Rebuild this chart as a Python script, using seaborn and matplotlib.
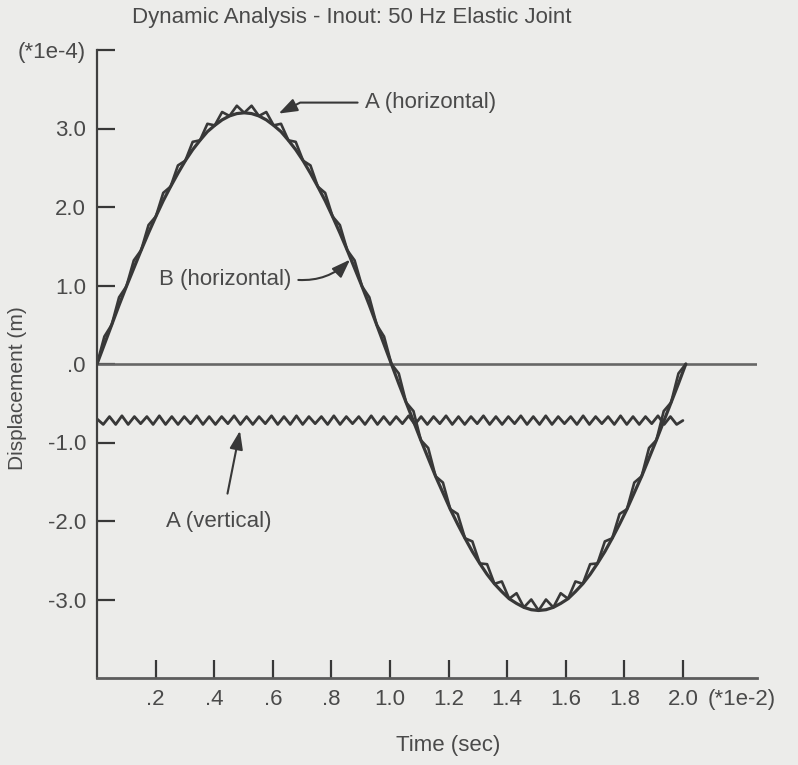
import numpy as np
import pandas as pd
import matplotlib
matplotlib.use("Agg")
import matplotlib.pyplot as plt
import seaborn as sns

# ---------------- data ----------------
title = "Dynamic Analysis - Inout: 50 Hz Elastic Joint"
x_label = "Time (sec)"
y_label = "Displacement (m)"

x_ticks = [0.2, 0.4, 0.6, 0.8, 1.0, 1.2, 1.4, 1.6, 1.8, 2.0, 2.2]
x_tick_labels = [".2", ".4", ".6", ".8", "1.0", "1.2", "1.4", "1.6", "1.8", "2.0", "(*1e-2)"]
y_ticks = [-3, -2, -1, 0, 1, 2, 3, 4]
y_tick_labels = ["-3.0", "-2.0", "-1.0", ".0", "1.0", "2.0", "3.0", "(*1e-4)"]

# B (horizontal): smooth response, sampled along the curve
horiz_B = [0.00, 0.25, 0.50, 0.75, 0.99, 1.22, 1.45, 1.67, 1.88, 2.08,
           2.26, 2.43, 2.59, 2.73, 2.85, 2.96, 3.04, 3.11, 3.16, 3.19,
           3.20, 3.19, 3.16, 3.11, 3.04, 2.96, 2.85, 2.73, 2.59, 2.43,
           2.26, 2.08, 1.88, 1.67, 1.45, 1.22, 0.99, 0.75, 0.50, 0.25,
           0.00, -0.25, -0.49, -0.73, -0.97, -1.20, -1.43, -1.64, -1.85, -2.04,
           -2.22, -2.39, -2.54, -2.68, -2.80, -2.90, -2.99, -3.05, -3.10, -3.13,
           -3.14, -3.13, -3.10, -3.05, -2.99, -2.90, -2.80, -2.68, -2.54, -2.39,
           -2.22, -2.04, -1.85, -1.64, -1.43, -1.20, -0.97, -0.73, -0.49, -0.25,
           0.00]
# A (horizontal): same response with the high-frequency ripple (teeth)
horiz_A = [0.00, 0.35, 0.50, 0.85, 0.99, 1.32, 1.45, 1.77, 1.88, 2.18,
           2.26, 2.53, 2.59, 2.83, 2.85, 3.06, 3.04, 3.21, 3.16, 3.29,
           3.20, 3.29, 3.16, 3.21, 3.04, 3.06, 2.85, 2.83, 2.59, 2.53,
           2.26, 2.18, 1.88, 1.77, 1.45, 1.32, 0.99, 0.85, 0.50, 0.35,
           0.00, -0.12, -0.49, -0.60, -0.97, -1.07, -1.43, -1.51, -1.85, -1.91,
           -2.22, -2.26, -2.54, -2.55, -2.80, -2.77, -2.99, -2.92, -3.10, -3.00,
           -3.14, -3.00, -3.10, -2.92, -2.99, -2.77, -2.80, -2.55, -2.54, -2.26,
           -2.22, -1.91, -1.85, -1.51, -1.43, -1.07, -0.97, -0.60, -0.49, -0.12,
           0.00]
horiz_end = 2.01

# A (vertical): small ripple around -0.72
vert_A = [-0.70, -0.77, -0.67, -0.77, -0.66, -0.77, -0.67, -0.76, -0.67, -0.77,
          -0.66, -0.77, -0.67, -0.77, -0.67, -0.76, -0.66, -0.77, -0.67, -0.77,
          -0.67, -0.76, -0.66, -0.77, -0.67, -0.77, -0.67, -0.76, -0.66, -0.77,
          -0.67, -0.77, -0.66, -0.77, -0.67, -0.76, -0.67, -0.77, -0.66, -0.77,
          -0.67, -0.76, -0.67, -0.77, -0.66, -0.77, -0.67, -0.77, -0.67, -0.76,
          -0.66, -0.77, -0.67, -0.77, -0.67, -0.76, -0.66, -0.77, -0.67, -0.77,
          -0.67, -0.76, -0.66, -0.77, -0.67, -0.77, -0.67, -0.76, -0.66, -0.77,
          -0.67, -0.77, -0.66, -0.77, -0.67, -0.76, -0.67, -0.77, -0.66, -0.77,
          -0.67, -0.76, -0.67, -0.77, -0.66, -0.77, -0.67, -0.77, -0.67, -0.76,
          -0.66, -0.77, -0.67, -0.77, -0.72]
vert_end = 2.0

# zero reference line
zero_time = [0.0, 2.253]
zero_disp = [0.0, 0.0]

# ---------------- styling ----------------
sns.set_theme(style="white")
plt.rcParams["font.family"] = ["Liberation Sans", "DejaVu Sans"]

bg = "#ececea"
ink = "#383838"
txt = "#4a4a4a"
fs = 16

fig = plt.figure(figsize=(7.98, 7.65), dpi=100, facecolor=bg)
ax = fig.add_axes([97 / 798, 1 - 678 / 765, 660 / 798, 628 / 765])
ax.set_facecolor(bg)

horiz_time = np.linspace(0, horiz_end, len(horiz_B))
vert_time = np.linspace(0, vert_end, len(vert_A))

df_h = pd.DataFrame({"t": horiz_time, "A": horiz_A, "B": horiz_B})
df_v = pd.DataFrame({"t": vert_time, "A": vert_A})
df_z = pd.DataFrame({"t": zero_time, "d": zero_disp})

sns.lineplot(data=df_z, x="t", y="d", ax=ax, color="#666666", lw=1.9,
             estimator=None, sort=False)
sns.lineplot(data=df_v, x="t", y="A", ax=ax, color=ink, lw=2.0,
             estimator=None, sort=False)
sns.lineplot(data=df_h, x="t", y="B", ax=ax, color=ink, lw=2.3,
             estimator=None, sort=False)
sns.lineplot(data=df_h, x="t", y="A", ax=ax, color=ink, lw=1.9,
             estimator=None, sort=False)

ax.set_xlim(0, 2.253)
ax.set_ylim(-4, 4)
ax.set_xticks(x_ticks)
ax.set_xticklabels(x_tick_labels)
ax.set_yticks(y_ticks)
ax.set_yticklabels(y_tick_labels)
ax.set_xlabel("")
ax.set_ylabel("")

ax.tick_params(axis="both", which="major", left=True, bottom=True,
               direction="in", length=13, width=1.6,
               colors=ink, labelcolor=txt, labelsize=fs)
ax.tick_params(axis="x", pad=8)
ax.tick_params(axis="y", pad=8)
ax.xaxis.get_major_ticks()[-1].tick1line.set_visible(False)

for s in ["top", "right"]:
    ax.spines[s].set_visible(False)
ax.spines["left"].set_color("#404040")
ax.spines["left"].set_linewidth(1.6)
ax.spines["bottom"].set_color("#5c5c5c")
ax.spines["bottom"].set_linewidth(2.0)

# annotations
arrow_kw = dict(arrowstyle="-|>,head_length=0.7,head_width=0.25",
                color=ink, lw=1.5, shrinkA=3, shrinkB=0)
ax.annotate("A (horizontal)", xy=(0.62, 3.19), xytext=(0.915, 3.33),
            ha="left", va="center", fontsize=fs, color=txt,
            arrowprops=dict(connectionstyle="angle,angleA=0,angleB=27,rad=0",
                            relpos=(0, 0.5), **arrow_kw))
ax.annotate("B (horizontal)", xy=(0.864, 1.33), xytext=(0.21, 1.08),
            ha="left", va="center", fontsize=fs, color=txt,
            arrowprops=dict(connectionstyle="arc3,rad=0.25",
                            relpos=(1, 0.5), **arrow_kw))
ax.annotate("A (vertical)", xy=(0.488, -0.85), xytext=(0.416, -2.0),
            ha="center", va="center", fontsize=fs, color=txt,
            arrowprops=dict(connectionstyle="arc3,rad=0",
                            relpos=(0.55, 1.0), shrinkA=10, shrinkB=0,
                            arrowstyle="-|>,head_length=0.7,head_width=0.25",
                            color=ink, lw=1.5))

fig.text(352 / 798, 1 - 17 / 765, title, ha="center", va="center",
         fontsize=fs, color=txt)
fig.text(448 / 798, 1 - 745 / 765, x_label, ha="center", va="center",
         fontsize=fs, color=txt)
fig.text(18 / 798, 1 - 388 / 765, y_label, ha="center", va="center",
         rotation=90, fontsize=15, color=txt)

fig.savefig("out.png", dpi=100, facecolor=bg)
